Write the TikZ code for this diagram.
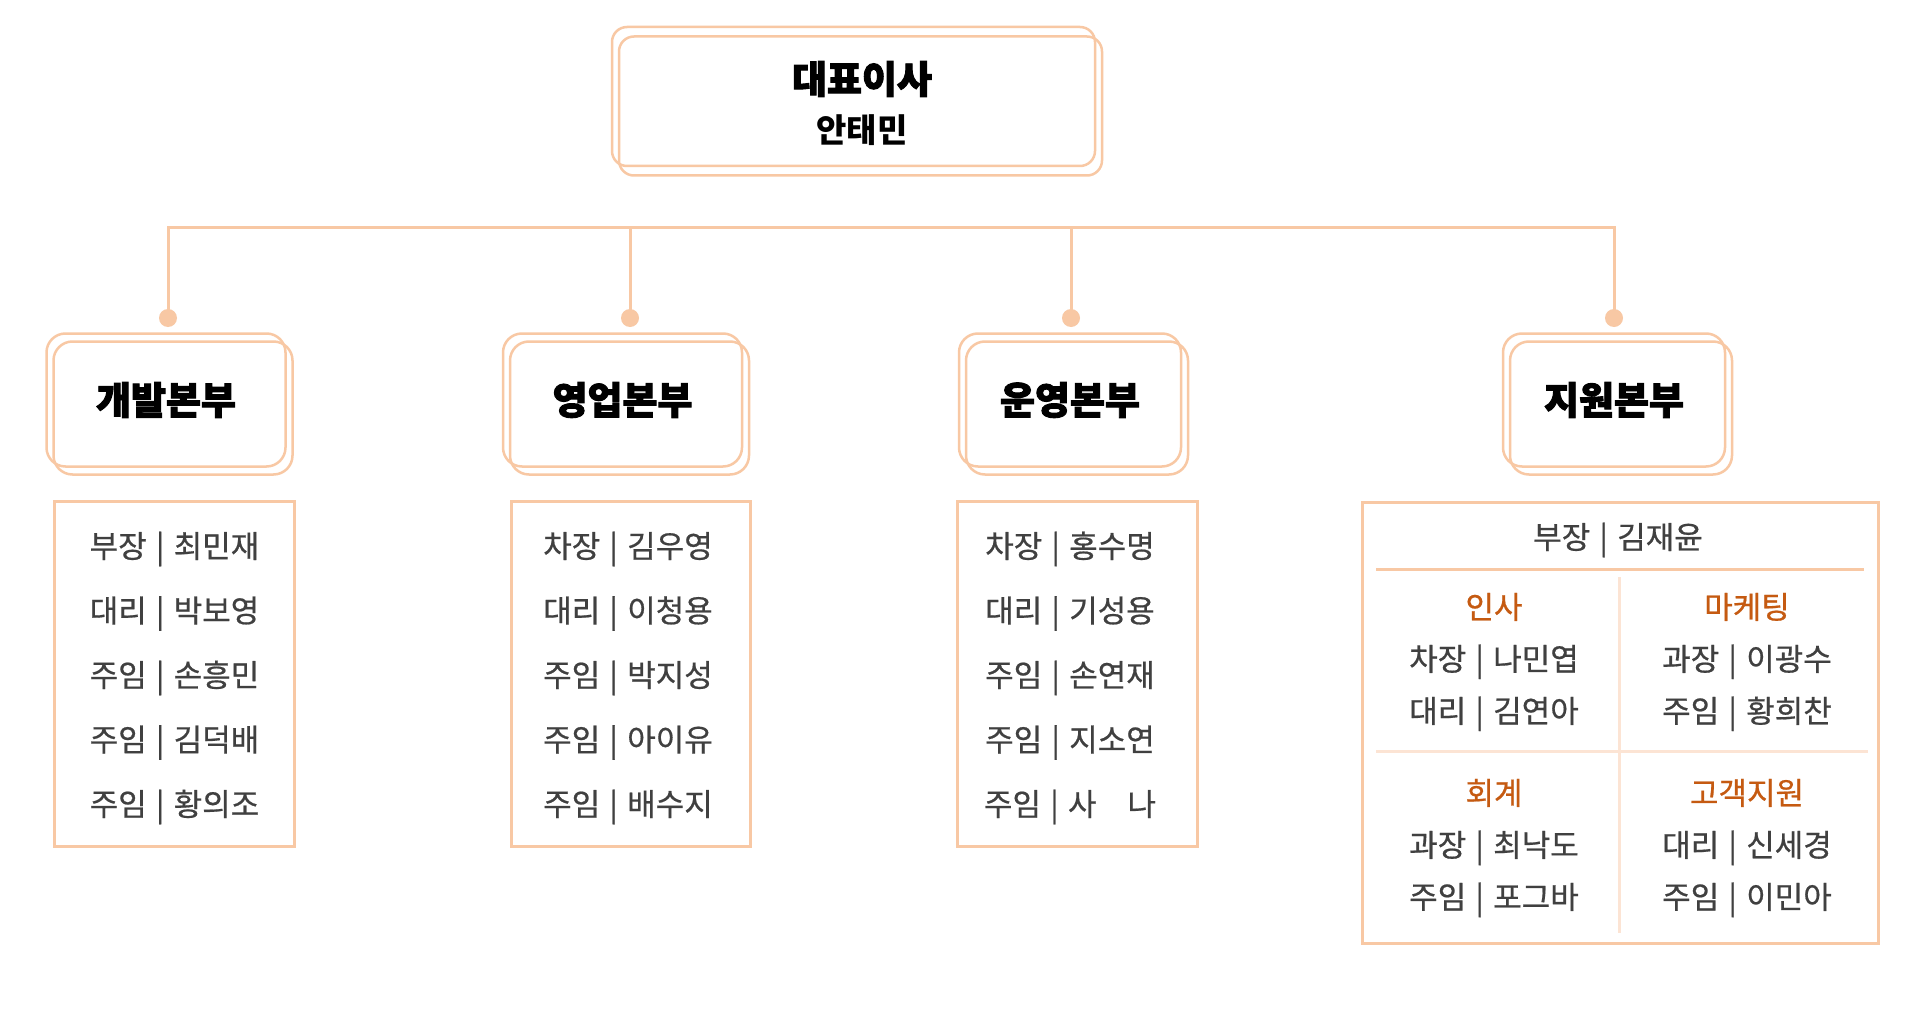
\documentclass[tikz,border=0pt]{standalone}
\usepackage{fontspec}
\setmainfont{Noto Sans CJK KR}
\newfontfamily\krmed{Noto Sans CJK KR}[FakeBold=0.6]
\newfontfamily\krheavy{Noto Sans CJK KR}[BoldFeatures={FakeBold=2.5}]
\usepackage{tikz}
\usetikzlibrary{positioning}

\definecolor{peach}{HTML}{F8C8A4}
\definecolor{peachlight}{HTML}{FCE4D4}
\definecolor{rust}{HTML}{C55A11}
\definecolor{ink}{HTML}{404040}

\newcommand{\divbar}{\hspace{0.3em}|\hspace{0.3em}}

\begin{document}
\begin{tikzpicture}[
  x=1pt, y=-1pt,
  ceobox/.style={draw=peach, line width=2.5pt, rounded corners=15pt, minimum width=483pt, minimum height=139pt},
  dept/.style={draw=peach, line width=2.5pt, rounded corners=19pt, minimum height=133pt},
  deptname/.style={font=\krheavy\bfseries\fontsize{38}{42}\selectfont, text=black},
  staff/.style={draw=peach, line width=3pt, minimum height=345pt},
  names/.style={align=center, text=ink, font=\krmed\fontsize{31}{64.5}\selectfont},
  team/.style={align=center, text=ink, font=\krmed\fontsize{31}{52}\selectfont},
  joint/.style={circle, fill=peach, inner sep=0pt, minimum size=18pt},
  link/.style={draw=peach, line width=3pt}
]
\path[use as bounding box, fill=white] (0,0) rectangle (1912,1030);

% CEO
\node[ceobox] (ceo) at (853.5,96.5) {};
\node[ceobox] (ceoback) at (860.5,106) {};
\node[font=\krheavy\bfseries\fontsize{38}{42}\selectfont] (ceotitle) at (862,79) {대표이사};
\node[font=\bfseries\fontsize{33}{36}\selectfont] (ceoname) at (862,130) {안태민};

% departments
\node[dept, minimum width=239pt, deptname] (dev) at (166,400) {개발본부};
\node[dept, minimum width=239pt] (devback) at (173,408) {};
\node[dept, minimum width=239pt, deptname] (sales) at (622.5,400) {영업본부};
\node[dept, minimum width=239pt] (salesback) at (629.5,408) {};
\node[dept, minimum width=222pt, deptname] (ops) at (1070,400) {운영본부};
\node[dept, minimum width=222pt] (opsback) at (1077,408) {};
\node[dept, minimum width=222pt, deptname] (sup) at (1614,400) {지원본부};
\node[dept, minimum width=222pt] (supback) at (1621,408) {};

% bus
\node[joint] (jdev) at (168,318) {};
\node[joint] (jsales) at (630,318) {};
\node[joint] (jops) at (1071,318) {};
\node[joint] (jsup) at (1614,318) {};
\coordinate (busdev) at (168,227);
\coordinate (bussales) at (630,227);
\coordinate (busops) at (1071,227);
\coordinate (bussup) at (1614,227);
\draw[link] (jdev.center) -- (busdev) -- (bussup) -- (jsup.center);
\draw[link] (bussales) -- (jsales.center);
\draw[link] (busops) -- (jops.center);

% staff lists
\node[staff, minimum width=240pt] (devstaff) at (174,673.5) {};
\node[names] (devnames) at (174.5,678) {부장\divbar 최민재\\대리\divbar 박보영\\주임\divbar 손흥민\\주임\divbar 김덕배\\주임\divbar 황의조};
\node[staff, minimum width=239pt] (salesstaff) at (630.5,673.5) {};
\node[names] (salesnames) at (628,678) {차장\divbar 김우영\\대리\divbar 이청용\\주임\divbar 박지성\\주임\divbar 아이유\\주임\divbar 배수지};
\node[staff, minimum width=240pt] (opsstaff) at (1077,673.5) {};
\node[names] (opsnames) at (1070,678) {차장\divbar 홍수명\\대리\divbar 기성용\\주임\divbar 손연재\\주임\divbar 지소연\\주임\divbar 사　나};

% support division
\node[staff, minimum width=516pt, minimum height=441pt] (supstaff) at (1620,722.5) {};
\node[names] (suphead) at (1618,540) {부장\divbar 김재윤};
\coordinate (headl) at (1376,569);
\coordinate (headr) at (1864,569);
\coordinate (midl) at (1376,751);
\coordinate (midr) at (1868,751);
\coordinate (splitt) at (1619,577);
\coordinate (splitb) at (1619,933);
\draw[draw=peach, line width=3pt] (headl) -- (headr);
\draw[draw=peachlight, line width=3pt] (midl) -- (midr);
\draw[draw=peachlight, line width=3pt] (splitt) -- (splitb);

\node[team] (hr) at (1494,662) {\textcolor{rust}{인사}\\차장\divbar 나민엽\\대리\divbar 김연아};
\node[team] (mkt) at (1747,662) {\textcolor{rust}{마케팅}\\과장\divbar 이광수\\주임\divbar 황희찬};
\node[team] (acc) at (1494,848) {\textcolor{rust}{회계}\\과장\divbar 최낙도\\주임\divbar 포그바};
\node[team] (cs) at (1747,848) {\textcolor{rust}{고객지원}\\대리\divbar 신세경\\주임\divbar 이민아};
\end{tikzpicture}
\end{document}
